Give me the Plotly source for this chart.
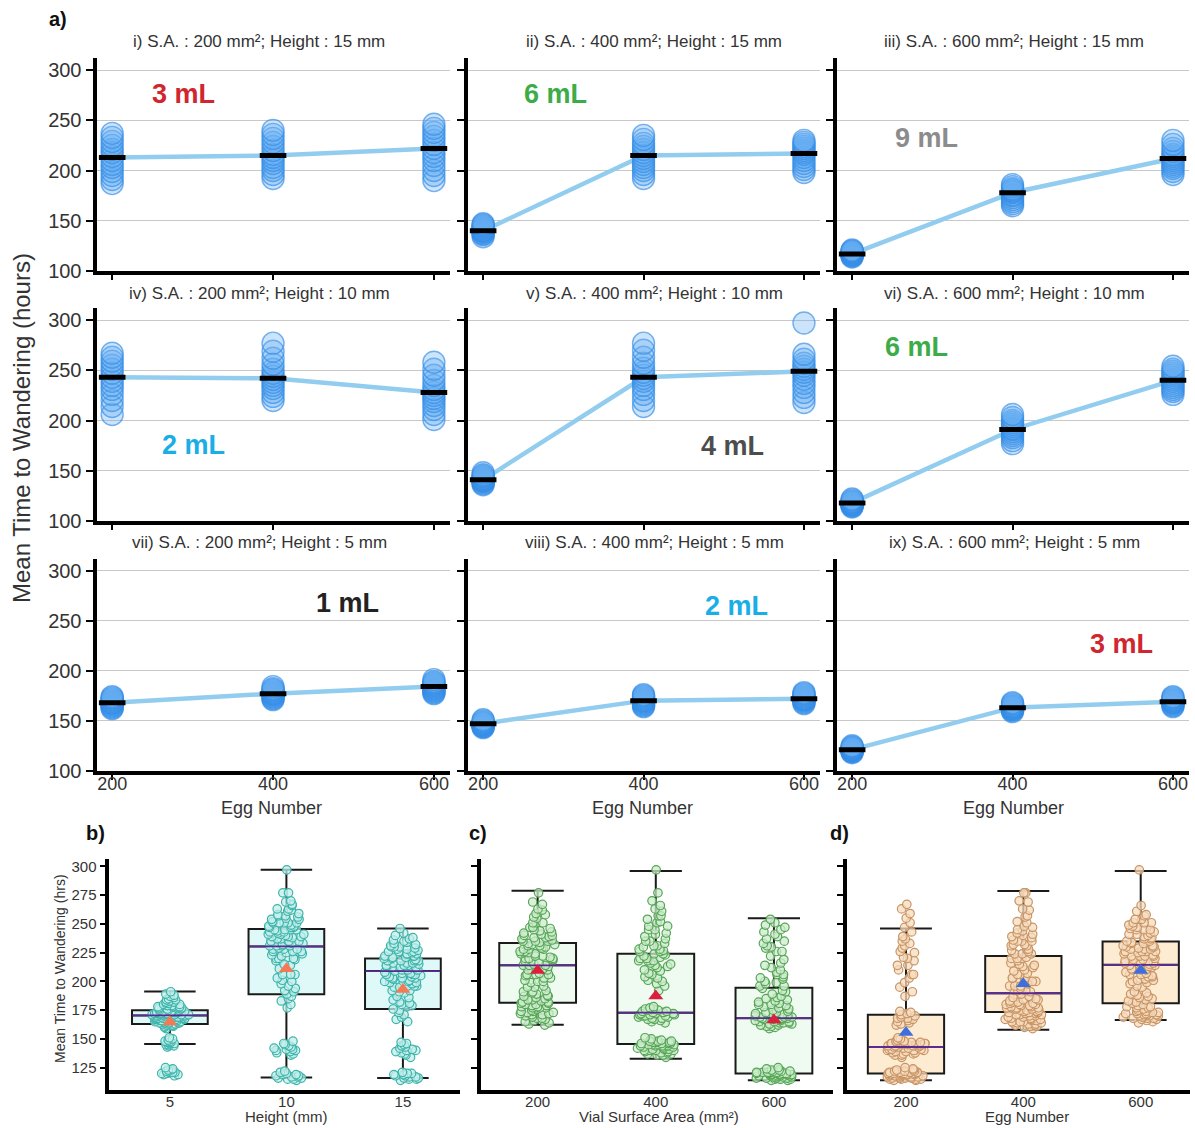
import plotly.graph_objects as go

W, H = 1195, 1128          # reference pixel space
FIG_H = 1140               # rendered figure height (capture is squeezed to 1128)

# ---------------- data ----------------
eggs = [200, 400, 600]
egg_labels = ['200', '400', '600']
height_labels = ['5', '10', '15']
sa_labels = ['200', '400', '600']

# per-panel raw values: [egg200, egg400, egg600]
panel_i = [[187, 191, 195, 199, 203, 206, 210, 214, 218, 221, 225, 229, 233, 237],
           [192, 196, 200, 203, 207, 210, 213, 216, 220, 224, 228, 232, 236, 240],
           [190, 195, 200, 205, 210, 214, 218, 222, 226, 230, 234, 238, 242, 246]]
panel_ii = [[134, 136, 137, 138, 139, 140, 140, 141, 142, 143, 144, 145, 146, 147],
            [192, 196, 200, 203, 206, 209, 212, 215, 218, 221, 224, 227, 231, 235],
            [198, 201, 204, 207, 210, 213, 216, 218, 220, 222, 224, 226, 228, 230]]
panel_iii = [[114, 115, 115, 116, 116, 117, 117, 118, 118, 119, 119, 120, 120, 121],
             [165, 167, 169, 171, 173, 175, 176, 178, 179, 180, 181, 182, 184, 186],
             [196, 199, 202, 204, 206, 208, 210, 212, 214, 216, 219, 222, 226, 230]]
panel_iv = [[206, 214, 220, 226, 231, 235, 239, 243, 247, 251, 255, 259, 263, 267],
            [220, 224, 228, 232, 235, 238, 241, 244, 247, 251, 256, 262, 269, 277],
            [201, 206, 211, 215, 219, 222, 225, 228, 231, 235, 240, 245, 251, 258]]
panel_v = [[136, 137, 138, 139, 140, 140, 141, 141, 142, 143, 144, 145, 146, 148],
           [214, 220, 226, 231, 235, 239, 242, 245, 248, 252, 257, 263, 270, 277],
           [218, 223, 228, 233, 237, 241, 245, 248, 251, 254, 257, 261, 266, 297]]
panel_vi = [[114, 115, 115, 116, 116, 117, 117, 118, 118, 119, 119, 120, 121, 122],
            [177, 180, 183, 185, 187, 189, 191, 192, 194, 196, 198, 200, 203, 206],
            [226, 229, 231, 233, 235, 237, 239, 241, 243, 245, 247, 249, 251, 254]]
panel_vii = [[162, 163, 164, 165, 166, 167, 168, 168, 169, 170, 171, 172, 173, 174],
             [171, 172, 173, 174, 175, 176, 177, 177, 178, 179, 180, 181, 182, 184],
             [177, 178, 179, 180, 181, 182, 183, 184, 185, 186, 187, 188, 189, 191]]
panel_viii = [[143, 144, 144, 145, 145, 146, 146, 147, 147, 148, 148, 149, 150, 151],
              [164, 165, 166, 167, 168, 169, 170, 170, 171, 172, 173, 174, 175, 176],
              [167, 168, 169, 170, 171, 171, 172, 172, 173, 174, 175, 176, 177, 178]]
panel_ix = [[118, 119, 119, 120, 120, 121, 121, 121, 122, 122, 123, 123, 124, 125],
            [159, 160, 161, 161, 162, 162, 163, 163, 164, 164, 165, 166, 167, 168],
            [164, 165, 166, 167, 168, 168, 169, 169, 170, 170, 171, 172, 173, 174]]

means_i = [213, 215, 222]
means_ii = [140, 215, 217]
means_iii = [117, 178, 212]
means_iv = [243, 242, 228]
means_v = [141, 243, 249]
means_vi = [118, 191, 240]
means_vii = [168, 177, 184]
means_viii = [147, 170, 172]
means_ix = [121, 163, 169]

panel_titles = ['i) S.A. : 200 mm²; Height : 15 mm', 'ii) S.A. : 400 mm²; Height : 15 mm',
                'iii) S.A. : 600 mm²; Height : 15 mm', 'iv) S.A. : 200 mm²; Height : 10 mm',
                'v) S.A. : 400 mm²; Height : 10 mm', 'vi) S.A. : 600 mm²; Height : 10 mm',
                'vii) S.A. : 200 mm²; Height : 5 mm', 'viii) S.A. : 400 mm²; Height : 5 mm',
                'ix) S.A. : 600 mm²; Height : 5 mm']
volume_labels = ['3 mL', '6 mL', '9 mL', '2 mL', '4 mL', '6 mL', '1 mL', '2 mL', '3 mL']

b_q1 = [163, 188.8, 176]; b_med = [170.4, 230.4, 209]; b_q3 = [175, 245.6, 219.8]
b_lo = [145.6, 116.5, 116]; b_hi = [191.3, 297, 246]; b_mean = [164.7, 211, 193]
c_q1 = [181.5, 145.5, 120]; c_med = [214, 172.8, 168]; c_q3 = [233.3, 224, 194.4]
c_lo = [162.4, 132.8, 114]; c_hi = [278.8, 296, 255]; c_mean = [209.4, 187.4, 166.5]
d_q1 = [120, 173.4, 181]; d_med = [143, 189.7, 214.4]; d_q3 = [171, 222, 234.7]
d_lo = [114, 158, 166.5]; d_hi = [246, 278.6, 296]; d_mean = [155.5, 198, 209.4]

# ---------------- styling / layout helpers ----------------
panels = [panel_i, panel_ii, panel_iii, panel_iv, panel_v, panel_vi, panel_vii, panel_viii, panel_ix]
means = [means_i, means_ii, means_iii, means_iv, means_v, means_vi, means_vii, means_viii, means_ix]
vol_colors = ['#d0262f', '#3cac48', '#8c8c8c', '#1aaee6', '#4d4d4d', '#3cac48', '#222222', '#1aaee6', '#d0262f']
vol_pos = [(183, 93), (555, 93), (926, 137), (193, 444), (732, 445), (916, 346), (347, 602), (736, 605), (1121, 643)]

FONT = 'Liberation Sans, Arial, sans-serif'


def dxf(a, b):
    return [a / W, b / W]


def dyf(top, bottom):
    return [1 - bottom / H, 1 - top / H]


def px(x):
    return x / W


def py(y):
    return 1 - y / H


col_x = [(96.5, 450), (467.5, 820), (836.5, 1189)]
row_y = [(57, 270), (307, 520), (557.5, 769.7)]
title_x = [259, 654, 1014]
title_y = [40, 293, 541]
egg_title_x = [271, 642, 1013]

fig = go.Figure()
layout_axes = {}
annotations = []


def axnames(idx):
    s = '' if idx == 1 else str(idx)
    return 'xaxis' + s, 'yaxis' + s, 'x' + s, 'y' + s


for k in range(9):
    r, c = divmod(k, 3)
    idx = k + 1
    xa, ya, xr, yr = axnames(idx)
    layout_axes[xa] = dict(domain=dxf(*col_x[c]), range=[180.5, 620], anchor=yr,
                           tickvals=eggs, ticktext=egg_labels, showticklabels=(r == 2),
                           ticks='outside', ticklen=5, tickwidth=2, tickcolor='black',
                           ticklabelstandoff=-11,
                           showline=True, linewidth=4, linecolor='black', showgrid=False,
                           zeroline=False, tickfont=dict(size=18, color='#333', family=FONT))
    layout_axes[ya] = dict(domain=dyf(*row_y[r]), range=[100, 312], anchor=xr,
                           tickvals=[100, 150, 200, 250, 300], showticklabels=(c == 0),
                           ticks='outside', ticklen=7, tickwidth=2, tickcolor='black',
                           showline=True, linewidth=4, linecolor='black', showgrid=True,
                           gridcolor='#c8c8c8', gridwidth=1.3, zeroline=False,
                           tickfont=dict(size=20, color='#333', family=FONT))
    data = panels[k]
    xs, ys = [], []
    for e, vals in zip(eggs, data):
        xs += [e] * len(vals)
        ys += vals
    fig.add_trace(go.Scatter(x=eggs, y=means[k], mode='lines', xaxis=xr, yaxis=yr,
                             line=dict(color='#92cdf0', width=4.5), showlegend=False, hoverinfo='skip'))
    fig.add_trace(go.Scatter(x=xs, y=ys, mode='markers', xaxis=xr, yaxis=yr, showlegend=False,
                             marker=dict(size=22, color='rgba(100,172,242,0.33)',
                                         line=dict(color='rgba(50,140,230,0.65)', width=1.4))))
    fig.add_trace(go.Scatter(x=eggs, y=means[k], mode='markers', xaxis=xr, yaxis=yr, showlegend=False,
                             marker=dict(symbol='line-ew', size=19,
                                         line=dict(color='black', width=5))))
    annotations.append(dict(x=px(title_x[c]), y=py(title_y[r]), xref='paper', yref='paper',
                            text=panel_titles[k], showarrow=False, xanchor='center', yanchor='middle',
                            font=dict(size=17, color='#333', family=FONT)))
    vx, vy = vol_pos[k]
    annotations.append(dict(x=px(vx), y=py(vy), xref='paper', yref='paper',
                            text='<b>' + volume_labels[k] + '</b>', showarrow=False,
                            xanchor='center', yanchor='middle',
                            font=dict(size=27, color=vol_colors[k], family=FONT)))
    if r == 2:
        annotations.append(dict(x=px(egg_title_x[c]), y=py(807), xref='paper',
                                yref='paper', text='Egg Number', showarrow=False, xanchor='center',
                                yanchor='middle', font=dict(size=18, color='#333', family=FONT)))

# ---------------- bottom panels ----------------
def pick(idx_list, g):
    out = []
    for i in idx_list:
        out += panels[i][g]
    return out


def all_of(idx_list):
    out = []
    for i in idx_list:
        for g in range(3):
            out += panels[i][g]
    return out


b_groups = [all_of([6, 7, 8]), all_of([3, 4, 5]), all_of([0, 1, 2])]
c_groups = [all_of([0, 3, 6]), all_of([1, 4, 7]), all_of([2, 5, 8])]
d_groups = [pick(range(9), 0), pick(range(9), 1), pick(range(9), 2)]

bottom = [
    dict(cats=height_labels, groups=b_groups, q1=b_q1, med=b_med, q3=b_q3, lo=b_lo, hi=b_hi, mean=b_mean,
         xdom=(109.3, 460), xr=[-0.52, 2.49], fill='#dff9f9', pfill='rgba(195,238,235,0.75)',
         pline='#3db4aa', tri='#f47a55', xtitle='Height (mm)', xt=286, lab='b)', labx=95),
    dict(cats=sa_labels, groups=c_groups, q1=c_q1, med=c_med, q3=c_q3, lo=c_lo, hi=c_hi, mean=c_mean,
         xdom=(480.7, 833), xr=[-0.482, 2.5], fill='#effaf1', pfill='rgba(205,235,205,0.75)',
         pline='#55a655', tri='#dc1f3c', xtitle='Vial Surface Area (mm²)', xt=659, lab='c)', labx=478),
    dict(cats=egg_labels, groups=d_groups, q1=d_q1, med=d_med, q3=d_q3, lo=d_lo, hi=d_hi, mean=d_mean,
         xdom=(846.7, 1190), xr=[-0.505, 2.42], fill='#fdebd2', pfill='rgba(246,220,192,0.75)',
         pline='#c99463', tri='#3f6fdc', xtitle='Egg Number', xt=1027, lab='d)', labx=840),
]

for j, P in enumerate(bottom):
    idx = 10 + j
    xa, ya, xr, yr = axnames(idx)
    layout_axes[xa] = dict(domain=dxf(*P['xdom']), range=P['xr'], anchor=yr, type='category',
                           categoryorder='array', categoryarray=P['cats'], showline=True,
                           linewidth=3.5, linecolor='black', ticks='', showgrid=False, zeroline=False,
                           ticklabelstandoff=-5,
                           tickfont=dict(size=15, color='#333', family=FONT))
    layout_axes[ya] = dict(domain=dyf(858, 1089), range=[105.6, 306.4], anchor=xr,
                           tickvals=[125, 150, 175, 200, 225, 250, 275, 300], showticklabels=(j == 0),
                           ticks='outside', ticklen=6, tickwidth=1.5, tickcolor='black',
                           showline=True, linewidth=3.5, linecolor='black', showgrid=False,
                           zeroline=False, tickfont=dict(size=15, color='#333', family=FONT))
    fig.add_trace(go.Box(x=P['cats'], q1=P['q1'], median=P['med'], q3=P['q3'],
                         lowerfence=P['lo'], upperfence=P['hi'], boxpoints=False,
                         fillcolor=P['fill'], line=dict(color='#1a1a1a', width=2), width=0.65,
                         whiskerwidth=0.68, xaxis=xr, yaxis=yr, showlegend=False))
    xs, ys = [], []
    for cat, vals in zip(P['cats'], P['groups']):
        xs += [cat] * len(vals)
        ys += vals
    fig.add_trace(go.Box(x=xs, y=ys, boxpoints='all', jitter=0.5, pointpos=0, width=0.65,
                         fillcolor='rgba(0,0,0,0)', line=dict(color='rgba(0,0,0,0)', width=0),
                         marker=dict(size=8.5, color=P['pfill'], line=dict(color=P['pline'], width=1.2)),
                         xaxis=xr, yaxis=yr, showlegend=False, hoveron='points'))
    fig.add_trace(go.Scatter(x=P['cats'], y=P['med'], mode='markers', xaxis=xr, yaxis=yr, showlegend=False,
                             marker=dict(symbol='line-ew', size=53.5, line=dict(color='#5a2a95', width=1.8))))
    fig.add_trace(go.Scatter(x=P['cats'], y=P['mean'], mode='markers', xaxis=xr, yaxis=yr, showlegend=False,
                             marker=dict(symbol='triangle-up', size=13, color=P['tri'])))
    annotations.append(dict(x=px(P['xt']), y=py(1115), xref='paper', yref='paper', text=P['xtitle'],
                            showarrow=False, xanchor='center', yanchor='middle',
                            font=dict(size=15, color='#333', family=FONT)))
    annotations.append(dict(x=px(P['labx']), y=py(832), xref='paper', yref='paper',
                            text='<b>' + P['lab'] + '</b>', showarrow=False, xanchor='center',
                            yanchor='middle', font=dict(size=20, color='#111', family=FONT)))

annotations.append(dict(x=px(58), y=py(18), xref='paper', yref='paper', text='<b>a)</b>', showarrow=False,
                        xanchor='center', yanchor='middle', font=dict(size=20, color='#111', family=FONT)))
annotations.append(dict(x=px(22), y=py(427), xref='paper', yref='paper',
                        text='Mean Time to Wandering (hours)', showarrow=False, textangle=-90,
                        xanchor='center', yanchor='middle', font=dict(size=24, color='#333', family=FONT)))
annotations.append(dict(x=px(60), y=py(968), xref='paper', yref='paper',
                        text='Mean Time to Wandering (hrs)', showarrow=False, textangle=-90,
                        xanchor='center', yanchor='middle', font=dict(size=14, color='#333', family=FONT)))

fig.update_layout(width=W, height=FIG_H, margin=dict(l=0, r=0, t=0, b=0),
                  paper_bgcolor='white', plot_bgcolor='white', boxmode='overlay',
                  annotations=annotations, font=dict(family=FONT), **layout_axes)

fig.write_html('out.html', config={'displayModeBar': False},
               post_script="document.body.style.margin='0px';document.body.style.overflow='hidden';")
